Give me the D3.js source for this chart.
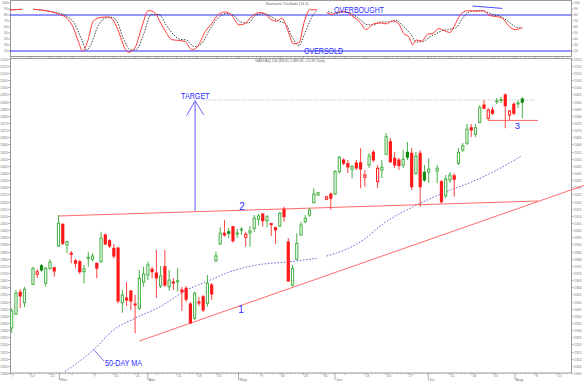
<!DOCTYPE html>
<html>
<head>
<meta charset="utf-8">
<script src="https://cdn.jsdelivr.net/npm/d3@7"></script>
<style>
  html, body { margin: 0; padding: 0; background: #ffffff; }
  svg { display: block; font-family: "Liberation Sans", Arial, sans-serif; }
</style>
</head>
<body>
<div id="chart"></div>
<script>
'use strict';

// ─── Data ────────────────────────────────────────────────────────────────────
// trading-day slots; 4, 73 and 99 are holidays (no bar)
const slots = d3.range(0, 4).concat(d3.range(5, 73), d3.range(74, 99), d3.range(100, 121));

const opens = [
  2331.5, 2341.3, 2356.5, 2349.2, 2362.1, 2369.1, 2375.1, 2362.8, 2373.3, 2373.7,
  2388.9, 2404.1, 2389.6, 2383.8, 2378.6, 2377.9, 2370.9, 2380.3, 2379.6, 2376.8,
  2377.9, 2396.6, 2392.6, 2387.3, 2387.5, 2349.2, 2352.5, 2357.4, 2348.3, 2345.3,
  2363.7, 2368.6, 2372.6, 2370.0, 2360.9, 2374.4, 2360.4, 2363.7, 2363.9, 2358.1,
  2359.3, 2348.3, 2338.3, 2349.7, 2353.4, 2348.8, 2361.6, 2378.6, 2390.3, 2397.8,
  2398.9, 2402.4, 2397.3, 2400.1, 2395.0, 2398.0, 2401.3, 2407.6, 2411.3, 2406.6,
  2404.6, 2401.7, 2402.9, 2414.6, 2391.7, 2361.6, 2379.6, 2396.6, 2405.9, 2410.6,
  2419.2, 2424.6, 2421.6, 2425.3, 2425.3, 2440.9, 2449.1, 2446.6, 2442.6, 2447.0,
  2447.2, 2437.0, 2445.6, 2454.5, 2433.9, 2442.1, 2453.1, 2461.9, 2450.3, 2449.1,
  2445.6, 2454.5, 2453.8, 2439.8, 2453.8, 2440.5, 2440.7, 2441.4, 2433.9, 2424.1,
  2435.1, 2438.1, 2446.8, 2456.1, 2460.8, 2471.7, 2467.1, 2475.5, 2487.6, 2478.3,
  2484.1, 2489.9, 2490.7, 2494.6, 2480.6, 2488.1, 2488.4, 2491.8
];
const highs = [
  2345.5, 2358.1, 2358.8, 2360.2, 2374.4, 2372.8, 2376.3, 2374.4, 2379.6, 2374.4,
  2410.6, 2404.8, 2392.6, 2385.4, 2379.6, 2379.1, 2375.6, 2384.9, 2383.8, 2377.2,
  2398.9, 2397.8, 2393.6, 2390.3, 2388.2, 2358.1, 2363.7, 2358.1, 2354.6, 2372.1,
  2374.4, 2377.9, 2374.4, 2386.1, 2374.9, 2386.1, 2372.1, 2366.5, 2373.5, 2360.2,
  2360.9, 2349.7, 2356.9, 2353.2, 2354.6, 2368.6, 2363.0, 2384.9, 2402.0, 2407.1,
  2401.5, 2402.9, 2400.8, 2402.2, 2398.9, 2402.9, 2410.6, 2411.3, 2411.8, 2410.6,
  2405.0, 2402.4, 2412.7, 2416.4, 2394.5, 2375.6, 2397.8, 2405.7, 2410.6, 2415.5,
  2429.3, 2426.9, 2423.9, 2426.2, 2442.1, 2451.9, 2450.3, 2449.1, 2445.6, 2449.1,
  2457.3, 2442.1, 2454.0, 2456.1, 2445.6, 2449.1, 2468.0, 2464.5, 2454.7, 2450.5,
  2456.1, 2461.7, 2457.5, 2454.7, 2456.1, 2445.6, 2450.3, 2445.6, 2435.1, 2438.6,
  2440.7, 2439.8, 2457.5, 2461.0, 2474.3, 2474.3, 2474.3, 2487.6, 2491.1, 2485.5,
  2486.2, 2492.5, 2493.2, 2495.8, 2484.1, 2489.7, 2491.1, 2493.2
];
const lows = [
  2328.0, 2340.6, 2345.5, 2346.2, 2361.6, 2366.5, 2370.9, 2360.4, 2372.1, 2367.4,
  2388.4, 2389.6, 2383.8, 2376.8, 2373.3, 2369.1, 2362.8, 2374.4, 2377.9, 2366.3,
  2377.2, 2389.6, 2387.3, 2380.3, 2348.8, 2342.2, 2346.9, 2344.1, 2327.8, 2344.1,
  2360.4, 2365.1, 2366.3, 2352.5, 2359.5, 2360.2, 2357.6, 2358.1, 2356.9, 2343.4,
  2349.7, 2334.8, 2337.1, 2346.9, 2342.7, 2346.4, 2351.1, 2377.9, 2389.6, 2395.4,
  2394.5, 2391.2, 2394.5, 2396.6, 2388.4, 2388.4, 2398.9, 2403.6, 2402.4, 2402.0,
  2395.9, 2390.3, 2402.2, 2405.9, 2363.9, 2360.4, 2379.1, 2395.9, 2405.0, 2409.4,
  2418.8, 2423.9, 2421.1, 2414.1, 2424.6, 2439.8, 2445.6, 2440.0, 2436.3, 2442.1,
  2429.3, 2430.4, 2443.5, 2447.7, 2429.5, 2436.5, 2452.6, 2447.0, 2443.5, 2442.1,
  2443.5, 2449.1, 2428.1, 2438.6, 2416.4, 2433.7, 2433.0, 2432.8, 2418.8, 2422.5,
  2433.0, 2423.4, 2445.6, 2454.7, 2459.6, 2465.2, 2465.2, 2474.6, 2484.8, 2476.4,
  2480.6, 2488.3, 2489.0, 2471.3, 2477.1, 2480.6, 2485.5, 2478.3
];
const closes = [
  2343.4, 2355.8, 2353.9, 2358.6, 2373.3, 2370.9, 2372.1, 2373.3, 2377.5, 2371.4,
  2404.8, 2390.8, 2391.9, 2383.1, 2376.8, 2370.9, 2372.8, 2381.0, 2381.9, 2373.3,
  2394.3, 2390.3, 2388.9, 2381.9, 2350.4, 2354.6, 2351.1, 2350.4, 2347.6, 2366.3,
  2369.3, 2375.6, 2370.9, 2366.5, 2367.9, 2361.6, 2365.1, 2363.0, 2364.6, 2356.7,
  2351.6, 2335.0, 2355.8, 2349.0, 2344.1, 2362.8, 2355.3, 2381.9, 2397.8, 2396.6,
  2397.8, 2392.6, 2398.0, 2400.6, 2397.1, 2399.4, 2408.3, 2409.9, 2406.6, 2409.4,
  2403.9, 2400.1, 2411.8, 2409.4, 2364.4, 2373.3, 2390.8, 2403.6, 2408.3, 2414.1,
  2425.3, 2426.2, 2423.4, 2422.3, 2440.9, 2451.0, 2446.8, 2444.2, 2444.5, 2443.5,
  2442.8, 2438.6, 2451.9, 2449.1, 2443.3, 2444.0, 2465.4, 2447.9, 2445.6, 2445.2,
  2449.6, 2451.0, 2430.4, 2451.9, 2430.4, 2435.1, 2442.8, 2443.3, 2419.9, 2435.8,
  2438.6, 2435.6, 2454.5, 2459.1, 2470.6, 2470.1, 2471.7, 2485.7, 2485.3, 2484.1,
  2481.8, 2490.4, 2491.4, 2487.1, 2483.4, 2481.8, 2489.0, 2489.5
];

// 50-day moving average [slot, price]; null = break in the line
const ma50 = [
  [12.5, 2300.9], [19.6, 2317.3], [23.9, 2330.1], [29.0, 2338.3], [34.9, 2346.4],
  [41.1, 2358.1], [45.8, 2363.9], [51.3, 2370.9], [57.6, 2375.6], [65.4, 2377.9],
  [71.7, 2380.3], null, [74.0, 2381.9], [77.2, 2384.9], [82.6, 2393.1], [86.6, 2402.9],
  [96.0, 2418.8], [102.2, 2426.9], [110.1, 2436.3], [114.8, 2443.3], [119.9, 2452.1]
];

// stochastic %K (red) and %D (dotted) [slot, value]
const stochK = [
  [-0.5, 88.5], [2.5, 89.5], null, [5.1, 89.5], [8.7, 86.3], [11.3, 80.9], [13.0, 74.6],
  [14.4, 60.4], [15.7, 35.2], [16.7, 19.4], [17.8, 35.2], [19.2, 69.9], [21.0, 76.2],
  [22.7, 76.8], [24.0, 69.9], [25.2, 50.9], [26.5, 25.7], [27.5, 17.8], [29.0, 25.7],
  [30.6, 60.4], [32.1, 87.3], [33.6, 84.1], [35.0, 66.7], [36.3, 50.9], [37.6, 38.9],
  [39.2, 37.7], [40.7, 35.8], [42.4, 21.9], [43.7, 27.3], [45.5, 52.5], [47.1, 66.7],
  [48.6, 80.9], [50.1, 85.1], [51.7, 79.4], [53.4, 63.6], [54.7, 65.2], [56.2, 76.2],
  [58.2, 84.1], [59.5, 82.5], [60.8, 73.1], [62.2, 69.9], [63.5, 74.6], [64.9, 54.1],
  [66.2, 32.0], [67.5, 33.6], [68.8, 69.9], [70.1, 88.8], [71.8, 88.8], null,
  [74.0, 84.1], [75.3, 80.9], [76.3, 84.1], [78.0, 85.7], [80.2, 77.8], [82.0, 66.7],
  [83.3, 55.7], [85.0, 65.2], [86.7, 66.7], [88.0, 65.2], [89.4, 69.9], [90.8, 66.7],
  [92.1, 49.4], [93.4, 43.1], [94.2, 30.4], [95.1, 38.3], [96.4, 36.7], [97.7, 47.8],
  [99.0, 49.4], [100.3, 57.3], [101.6, 54.1], [103.0, 50.9], [103.9, 60.4], [105.7, 82.5],
  [107.4, 87.3], [109.2, 86.3], [110.9, 87.3], [112.2, 79.4], [113.5, 77.8], [115.3, 74.6],
  [117.0, 60.4], [118.4, 55.7], [120.0, 59.5]
];
const stochD = [
  [-0.1, 88.8], [2.5, 89.5], null, [5.1, 89.5], [10.4, 84.1], [12.6, 79.4], [14.8, 65.2],
  [16.5, 38.3], [17.6, 21.9], [18.7, 32.0], [20.2, 60.4], [21.9, 74.6], [23.6, 76.2],
  [24.9, 66.7], [26.2, 41.5], [28.0, 21.9], [29.3, 22.5], [31.0, 47.8], [32.8, 80.9],
  [34.6, 80.9], [36.3, 63.6], [37.6, 50.9], [39.4, 39.9], [41.1, 38.3], [42.9, 27.3],
  [44.6, 32.0], [46.4, 54.1], [48.1, 71.5], [50.4, 82.5], [52.1, 79.4], [53.9, 68.3],
  [55.6, 66.7], [57.3, 79.4], [59.1, 82.5], [60.8, 77.8], [62.7, 69.9], [64.4, 65.2],
  [65.7, 46.2], [67.5, 28.8], [68.8, 47.8], [70.5, 76.2], [71.8, 87.3], null,
  [74.4, 85.7], [76.3, 82.5], [78.0, 85.7], [80.2, 80.9], [82.0, 71.5], [83.7, 63.6],
  [85.0, 63.6], [86.7, 68.3], [88.5, 68.3], [90.3, 71.5], [92.1, 60.4], [93.8, 47.8],
  [95.1, 35.2], [96.4, 35.2], [98.2, 43.1], [99.9, 49.4], [101.2, 54.1], [102.5, 55.7],
  [104.4, 58.8], [106.1, 76.2], [107.8, 85.7], [109.6, 87.3], [111.3, 85.7], [113.1, 80.9],
  [114.8, 77.8], [116.6, 69.9], [118.4, 60.4], [120.0, 57.9]
];
const stochLevels = [80, 20];
const stochTicks = [20, 30, 40, 50, 60, 70, 80, 90, 100];

// hand-drawn annotations [slot, price]
const supportLine1 = [[30.0, 2322.4], [134.5, 2431.3]];
const neckline2    = [[10.9, 2409.9], [123.7, 2420.4]];
const base3        = [[112.0, 2476.8], [123.7, 2476.8]];
const targetLevel  = [[44.9, 2491.1], [123.0, 2491.1]];
const targetArrow  = [[43.1, 2413.4], [43.1, 2490.6]];
const divergence   = [[108.3, 95], [115.3, 91]];

// axis labels
const monthSlots  = [11.2, 32.0, 53.3, 76.0, 97.9, 118.3];
const monthNames  = ['Mar', 'Apr', 'May', 'Jun', 'Jul', 'Aug'];
const weekSlots   = [-0.2, 4.3, 9.0, 14.2, 19.2, 24.0, 29.0, 34.1, 38.8, 43.5, 48.2, 58.4,
                     63.1, 68.5, 73.2, 78.3, 83.0, 88.1, 93.2, 103.0, 108.1, 113.2, 123.0, 128.1];
const weekLabels  = ['7', '14', '22', '', '7', '14', '21', '', '11', '18', '25', '9',
                     '16', '23', '31', '', '13', '20', '27', '11', '18', '25', '8', '15'];

// ─── Layout ──────────────────────────────────────────────────────────────────
const W = 584, H = 386;
const L = 10, R = 571;
const MAIN_TOP = 58.5, MAIN_BOT = 373;
const ST_TOP = 0.5, ST_BOT = 56.5;

const svg = d3.select('#chart').append('svg')
  .attr('width', W).attr('height', H)
  .attr('viewBox', '0 0 ' + W + ' ' + H);

const x  = d3.scaleLinear().domain([0, 120]).range([11.7, 522.3]);
const y  = d3.scaleLinear().domain([2300, 2520.15]).range([MAIN_BOT, MAIN_TOP]);
const ys = d3.scaleLinear().domain([20, 80]).range([51, 15]);

const RED = '#ff1a1a', RED_WICK = '#ff4040', GREEN = '#45b045', GREEN_FILL = '#118a11';
const BLUE = '#2b2bff', TREND = '#ff6a6a', AXIS = '#888888';

// ─── Frames & axes ───────────────────────────────────────────────────────────
function frame(top, bot) {
  svg.append('rect')
    .attr('x', L + 0.5).attr('y', top).attr('width', R - L).attr('height', bot - top)
    .attr('fill', 'none').attr('stroke', '#9a9a9a').attr('stroke-width', 1);
}
frame(ST_TOP, ST_BOT);
frame(MAIN_TOP, MAIN_BOT);

const axisG = svg.append('g').attr('font-size', 3.4).attr('fill', '#777');

// price axis, both sides
d3.range(2300, 2521, 5).forEach(function (p) {
  const yy = Math.round(y(p)) + 0.5;
  axisG.append('line').attr('x1', L - 2).attr('x2', L + 0.5).attr('y1', yy).attr('y2', yy)
    .attr('stroke', AXIS).attr('stroke-width', 0.6);
  axisG.append('line').attr('x1', R + 0.5).attr('x2', R + 2.5).attr('y1', yy).attr('y2', yy)
    .attr('stroke', AXIS).attr('stroke-width', 0.6);
  axisG.append('text').attr('x', L - 2.2).attr('y', yy + 1.2).attr('text-anchor', 'end').text(p);
  axisG.append('text').attr('x', R + 3).attr('y', yy + 1.2).text(p);
});

// stochastic axis
stochTicks.forEach(function (v) {
  const yy = ys(v);
  if (yy < ST_TOP + 1) return;
  axisG.append('line').attr('x1', L - 2).attr('x2', L + 0.5).attr('y1', yy).attr('y2', yy)
    .attr('stroke', AXIS).attr('stroke-width', 0.6);
  axisG.append('line').attr('x1', R + 0.5).attr('x2', R + 2.5).attr('y1', yy).attr('y2', yy)
    .attr('stroke', AXIS).attr('stroke-width', 0.6);
  axisG.append('text').attr('x', L - 2.2).attr('y', yy + 1.2).attr('text-anchor', 'end').text(v);
  axisG.append('text').attr('x', R + 3).attr('y', yy + 1.2).text(v);
});

// time axis: one small tick per day, weekly and monthly marks
function timeTicks(base, withLabels) {
  d3.range(-0.4, 131.4, 1).forEach(function (s) {
    axisG.append('line').attr('x1', x(s)).attr('x2', x(s)).attr('y1', base).attr('y2', base + 1.2)
      .attr('stroke', AXIS).attr('stroke-width', 0.5);
  });
  weekSlots.forEach(function (s, i) {
    axisG.append('line').attr('x1', x(s)).attr('x2', x(s)).attr('y1', base).attr('y2', base + 2.2)
      .attr('stroke', AXIS).attr('stroke-width', 0.6);
    if (withLabels && weekLabels[i]) {
      axisG.append('text').attr('x', x(s) + 0.8).attr('y', base + 4).text(weekLabels[i]);
    }
  });
  monthSlots.forEach(function (s, i) {
    axisG.append('line').attr('x1', x(s)).attr('x2', x(s)).attr('y1', base).attr('y2', base + (withLabels ? 7 : 2.5))
      .attr('stroke', AXIS).attr('stroke-width', 0.7);
    if (withLabels) {
      axisG.append('text').attr('x', x(s) + 1).attr('y', base + 8).attr('font-size', 4).text(monthNames[i]);
    }
  });
}
timeTicks(MAIN_BOT, true);
timeTicks(ST_BOT, false);

// panel titles
svg.append('text').attr('x', 287).attr('y', 4.5).attr('text-anchor', 'middle')
  .attr('font-size', 3.6).attr('fill', '#666').text('Stochastic Oscillator (14,3)');
svg.append('text').attr('x', 290).attr('y', 62.3).attr('text-anchor', 'middle')
  .attr('font-size', 3.6).attr('fill', '#666').text('NASDAQ-100 (NDX) 2,489.46 +12.81 Daily');

// ─── Stochastic panel ────────────────────────────────────────────────────────
stochLevels.forEach(function (v) {
  svg.append('line').attr('x1', L).attr('x2', R).attr('y1', ys(v)).attr('y2', ys(v))
    .attr('stroke', BLUE).attr('stroke-width', 1);
});

const stochLine = d3.line()
  .defined(function (d) { return d !== null; })
  .x(function (d) { return x(d[0]); })
  .y(function (d) { return ys(d[1]); })
  .curve(d3.curveMonotoneX);

svg.append('path').datum(stochD).attr('d', stochLine)
  .attr('fill', 'none').attr('stroke', '#222').attr('stroke-width', 0.9).attr('stroke-dasharray', '1.4,1.4');
svg.append('path').datum(stochK).attr('d', stochLine)
  .attr('fill', 'none').attr('stroke', '#ff3a3a').attr('stroke-width', 1);

svg.append('line')
  .attr('x1', x(divergence[0][0])).attr('y1', ys(divergence[0][1]))
  .attr('x2', x(divergence[1][0])).attr('y2', ys(divergence[1][1]))
  .attr('stroke', '#4a4aff').attr('stroke-width', 1);

svg.append('text').attr('x', 334).attr('y', 13.2).attr('font-size', 9.5).attr('fill', BLUE)
  .attr('textLength', 50).attr('lengthAdjust', 'spacingAndGlyphs').text('OVERBOUGHT');
svg.append('text').attr('x', 304).attr('y', 53.5).attr('font-size', 9.5).attr('fill', BLUE)
  .attr('textLength', 39).attr('lengthAdjust', 'spacingAndGlyphs').text('OVERSOLD');

// ─── Main panel annotations (behind bars) ────────────────────────────────────
function segment(pts, color, width, dash) {
  const ln = svg.append('line')
    .attr('x1', x(pts[0][0])).attr('y1', y(pts[0][1]))
    .attr('x2', x(pts[1][0])).attr('y2', y(pts[1][1]))
    .attr('stroke', color).attr('stroke-width', width);
  if (dash) ln.attr('stroke-dasharray', dash);
  return ln;
}

segment(targetLevel, '#b0b0b0', 0.8, '1.5,1.5');

const maLine = d3.line()
  .defined(function (d) { return d !== null; })
  .x(function (d) { return x(d[0]); })
  .y(function (d) { return y(d[1]); })
  .curve(d3.curveMonotoneX);
svg.append('path').datum(ma50).attr('d', maLine)
  .attr('fill', 'none').attr('stroke', '#6a6ad8').attr('stroke-width', 1).attr('stroke-dasharray', '1.6,1.6');

segment(supportLine1, TREND, 1);
segment(neckline2, TREND, 1);
segment(base3, TREND, 1);

// target arrow
const ax = x(targetArrow[0][0]);
const tipY = y(targetArrow[1][1]);
segment(targetArrow, '#6b6bff', 1.1);
svg.append('path')
  .attr('d', 'M' + (ax - 8.5) + ',' + (tipY + 15) + 'L' + ax + ',' + tipY + 'L' + (ax + 8.5) + ',' + (tipY + 14))
  .attr('fill', 'none').attr('stroke', '#6b6bff').attr('stroke-width', 1);

// ─── Candles ─────────────────────────────────────────────────────────────────
const bars = slots.map(function (s, i) {
  return { slot: s, o: opens[i], h: highs[i], l: lows[i], c: closes[i],
           prev: i > 0 ? closes[i - 1] : opens[i] };
});
const BW = 3.2;

const g = svg.append('g');
bars.forEach(function (d) {
  const cx = x(d.slot);
  const up = d.c >= d.prev;          // colour: vs previous close
  const hollow = d.c >= d.o;         // fill: vs open
  const col = up ? GREEN : RED;
  g.append('line').attr('x1', cx).attr('x2', cx).attr('y1', y(d.h)).attr('y2', y(d.l))
    .attr('stroke', up ? GREEN : RED_WICK).attr('stroke-width', 1);
  const top = y(Math.max(d.o, d.c)), bot = y(Math.min(d.o, d.c));
  const hgt = Math.max(bot - top, 0.8);
  if (hollow) {
    g.append('rect').attr('x', cx - BW / 2 + 0.5).attr('y', top).attr('width', BW - 1).attr('height', hgt)
      .attr('fill', '#ffffff').attr('stroke', col).attr('stroke-width', 1);
  } else {
    g.append('rect').attr('x', cx - BW / 2).attr('y', top - 0.5).attr('width', BW).attr('height', hgt + 1)
      .attr('fill', up ? GREEN_FILL : RED).attr('stroke', 'none');
  }
});

// ─── Labels ──────────────────────────────────────────────────────────────────
svg.append('text').attr('x', ax - 14).attr('y', 99.3).attr('font-size', 9.5).attr('fill', BLUE)
  .attr('textLength', 28.5).attr('lengthAdjust', 'spacingAndGlyphs').text('TARGET');
svg.append('text').attr('x', 242).attr('y', 209.5).attr('text-anchor', 'middle')
  .attr('font-size', 10).attr('fill', BLUE).text('2');
svg.append('text').attr('x', 241).attr('y', 313).attr('text-anchor', 'middle')
  .attr('font-size', 10).attr('fill', BLUE).text('1');
svg.append('text').attr('x', 517.5).attr('y', 129).attr('text-anchor', 'middle')
  .attr('font-size', 9.5).attr('fill', BLUE).text('3');

svg.append('line').attr('x1', 93.5).attr('y1', 349.5).attr('x2', 104).attr('y2', 361)
  .attr('stroke', '#5050e0').attr('stroke-width', 0.8);
svg.append('text').attr('x', 105).attr('y', 365.5).attr('font-size', 9).attr('fill', BLUE)
  .attr('textLength', 37).attr('lengthAdjust', 'spacingAndGlyphs').text('50-DAY MA');
</script>
</body>
</html>
